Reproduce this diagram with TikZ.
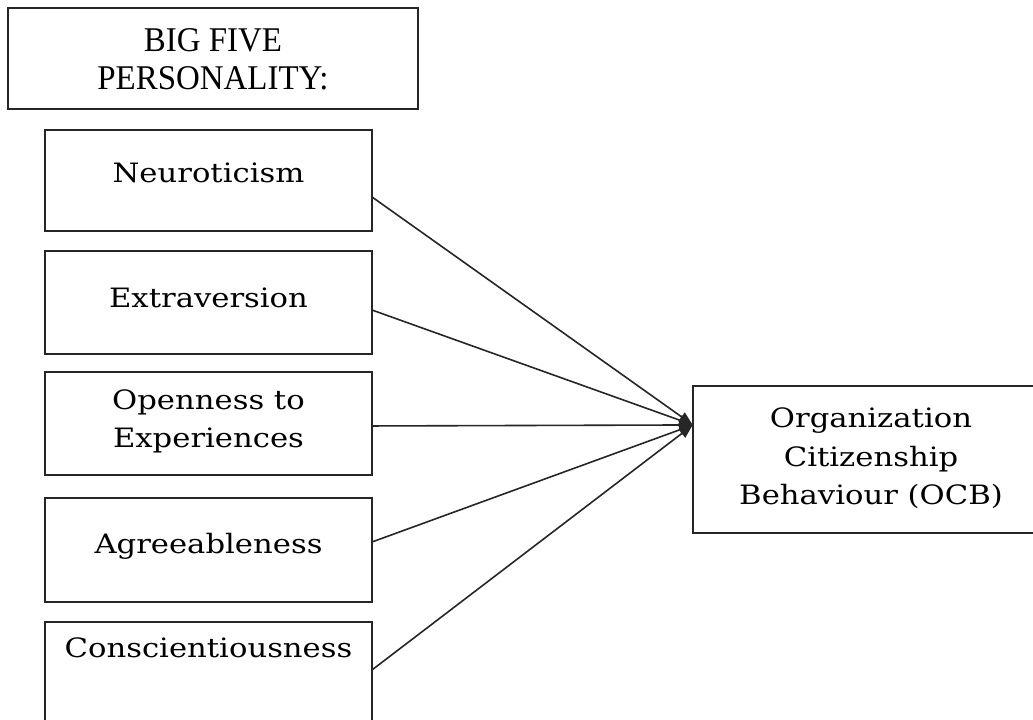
\documentclass[tikz,border=0pt]{standalone}
\usepackage{fontspec}
\newfontfamily\boxfont[FakeStretch=1.15]{DejaVu Serif}
\newfontfamily\headfont[FakeStretch=0.95]{Liberation Serif}
\usetikzlibrary{calc,arrows.meta}
\begin{document}
\begin{tikzpicture}[x=0.75pt,y=-0.75pt,
  box/.style={draw=black!85, line width=1.4pt, inner sep=0pt, outer sep=0pt, anchor=north west,
    font=\boxfont\fontsize{20pt}{28.5pt}\selectfont},
  leftbox/.style={box, minimum width=245.25pt},
  link/.style={draw=black!85, line width=1.2pt, shorten >=0.5pt, -{Triangle[length=10pt,width=8pt]}}]
\useasboundingbox (0,0) rectangle (1033,720);
\clip (0,0) rectangle (1033,720);
\node[box, font=\headfont\fontsize{26pt}{28.5pt}\selectfont, minimum width=307.5pt,
  text height=61.5pt, text depth=14.25pt] (big) at (8,8)
  {\begin{tabular}[b]{@{}c@{}}BIG FIVE\\PERSONALITY:\end{tabular}};
\node[leftbox, text height=39.75pt, text depth=36pt] (neu) at (45,130) {Neuroticism};
\node[leftbox, text height=42.75pt, text depth=34.5pt] (ext) at (45,251) {Extraversion};
\node[leftbox, text height=57pt, text depth=20.25pt] (opn) at (45,372)
  {\begin{tabular}[b]{@{}c@{}}Openness to\\Experiences\end{tabular}};
\node[leftbox, text height=41.25pt, text depth=36.75pt] (agr) at (45,498) {Agreeableness};
\node[leftbox, text height=26.25pt, text depth=50.25pt] (con) at (45,622) {Conscientiousness};
\node[box, minimum width=267pt, text height=89.25pt, text depth=21pt,
  font=\boxfont\fontsize{20pt}{29.25pt}\selectfont] (ocb) at (693,386)
  {\begin{tabular}[b]{@{}c@{}}Organization\\Citizenship\\Behaviour (OCB)\end{tabular}};
\coordinate (hub) at ($(ocb.north west)!0.265!(ocb.south west)$);
\draw[link] ($(neu.north east)!0.663!(neu.south east)$) -- (hub);
\draw[link] ($(ext.north east)!0.573!(ext.south east)$) -- (hub);
\draw[link] ($(opn.north east)!0.524!(opn.south east)$) -- (hub);
\draw[link] ($(agr.north east)!0.423!(agr.south east)$) -- (hub);
\draw[link] ($(con.north east)!0.47!(con.south east)$) -- (hub);
\end{tikzpicture}
\end{document}
